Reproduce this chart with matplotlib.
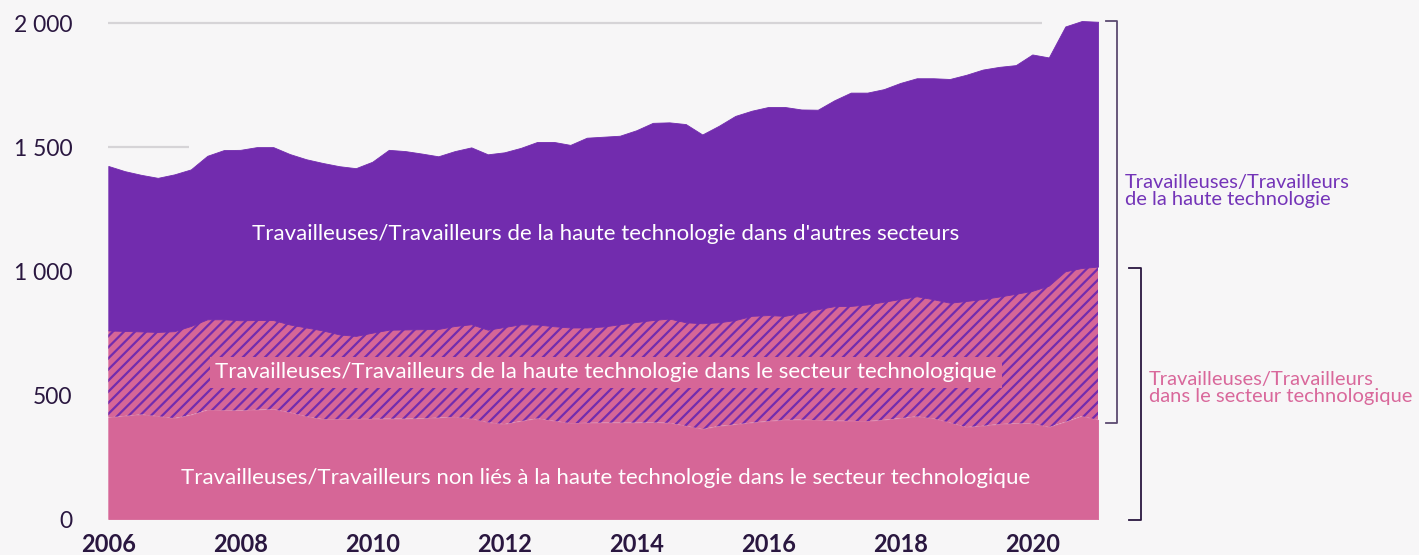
import matplotlib
matplotlib.use("Agg")
import matplotlib.pyplot as plt
import numpy as np

plt.rcParams['font.family'] = ['Lato', 'DejaVu Sans']
plt.rcParams['hatch.linewidth'] = 1.6

# Quarterly positions 2006 Q1 .. 2021 Q1 (thousands of workers)
years = [2006 + 0.25 * i for i in range(61)]

non_high_tech_in_tech = [
    410, 416, 422, 415, 407, 420, 440, 439, 438, 441, 443, 430, 414, 403, 403, 404,
    404, 405, 405, 406, 409, 412, 405, 390, 383, 395, 406, 396, 387, 388, 389, 389,
    389, 390, 388, 376, 363, 375, 382, 389, 395, 400, 401, 399, 397, 396, 395, 400,
    407, 414, 406, 389, 371, 376, 383, 386, 386, 371, 392, 415, 400]

high_tech_in_tech = [
    351, 343, 335, 340, 351, 359, 366, 367, 364, 362, 360, 355, 359, 358, 342, 335,
    348, 359, 360, 360, 358, 367, 381, 374, 392, 391, 379, 382, 386, 385, 388, 397,
    406, 413, 421, 418, 427, 419, 421, 431, 428, 420, 431, 448, 462, 464, 471, 477,
    481, 485, 481, 484, 509, 512, 515, 523, 535, 571, 608, 598, 619]

high_tech_other_sectors = [
    664, 645, 632, 622, 633, 632, 660, 683, 688, 698, 698, 688, 679, 676, 679, 677,
    690, 726, 720, 709, 697, 706, 714, 708, 705, 712, 737, 744, 737, 766, 766, 761,
    774, 796, 792, 800, 762, 793, 824, 828, 840, 843, 821, 805, 831, 861, 855, 858,
    872, 880, 892, 903, 913, 926, 927, 923, 954, 921, 988, 997, 988]

xtick_years = [2006, 2008, 2010, 2012, 2014, 2016, 2018, 2020]
ytick_values = [0, 500, 1000, 1500, 2000]
ytick_labels = ['0', '500', '1 000', '1 500', '2 000']

label_other = "Travailleuses/Travailleurs de la haute technologie dans d'autres secteurs"
label_ht_tech = "Travailleuses/Travailleurs de la haute technologie dans le secteur technologique"
label_nonht_tech = "Travailleuses/Travailleurs non liés à la haute technologie dans le secteur technologique"
bracket_ht = "Travailleuses/Travailleurs\nde la haute technologie"
bracket_tech = "Travailleuses/Travailleurs\ndans le secteur technologique"

BG = '#f7f6f7'
PURPLE = '#722cae'
PINK = '#d66697'
DARK = '#2a1740'
PURPLE_TXT = '#7434b8'
PINK_TXT = '#d9689b'

W, H = 1419, 555
fig = plt.figure(figsize=(W / 100, H / 100), dpi=100, facecolor=BG)
ax = fig.add_axes([108.3 / W, 36 / H, 990 / W, 507.9 / H])
ax.set_facecolor(BG)
ax.set_xlim(2006, 2021)
ax.set_ylim(0, 2050)

# partial gridlines visible in the reference
ax.hlines(2000, 2006, 2020.15, color='#d6d4d7', lw=1.6, zorder=0)
ax.hlines(1500, 2006, 2007.22, color='#d6d4d7', lw=1.6, zorder=0)

polys = ax.stackplot(years, non_high_tech_in_tech, high_tech_in_tech, high_tech_other_sectors,
                     colors=[PINK, PINK, PURPLE], zorder=2)
polys[0].set_edgecolor(PINK)
polys[0].set_linewidth(0.6)
polys[2].set_edgecolor(PURPLE)
polys[2].set_linewidth(0.6)
polys[1].set_hatch('///')
polys[1].set_edgecolor(PURPLE)
polys[1].set_linewidth(0)

for s in ax.spines.values():
    s.set_visible(False)

ax.set_yticks(ytick_values)
ax.set_yticklabels(ytick_labels)
ax.set_xticks(xtick_years)
ax.set_xticklabels([str(y) for y in xtick_years])
ax.tick_params(axis='y', length=0, pad=26, labelsize=16.5, labelcolor=DARK)
ax.tick_params(axis='x', length=0, pad=10, labelsize=17, labelcolor=DARK)
for t in ax.get_xticklabels():
    t.set_fontweight('bold')

ax.text(2013.53, 1150, label_other, color='white', fontsize=16, ha='center', va='center', zorder=5)
ax.text(2013.54, 593, label_ht_tech, color='white', fontsize=16, ha='center', va='center', zorder=5,
        bbox=dict(boxstyle='square,pad=0.25', fc=PINK, ec='none'))
ax.text(2013.54, 165, label_nonht_tech, color='white', fontsize=16, ha='center', va='center', zorder=5)

# brackets (figure pixel coordinates)
def px(x, y):
    return x / W, 1 - y / H

def bracket(xv, xl, ytop, ybot, color):
    xs = [xl, xv, xv, xl]
    ys = [ytop, ytop, ybot, ybot]
    fx = [x / W for x in xs]
    fy = [1 - y / H for y in ys]
    fig.add_artist(plt.Line2D(fx, fy, color=color, lw=1.3, transform=fig.transFigure))

bracket(1117.3, 1106, 21, 423, '#5b4a70')
bracket(1140.7, 1129, 267.5, 519.5, DARK)

fig.text(*px(1125, 191), bracket_ht, color=PURPLE_TXT, fontsize=14.5, ha='left', va='center',
         linespacing=1.0)
fig.text(*px(1149, 388), bracket_tech, color=PINK_TXT, fontsize=14.5, ha='left', va='center',
         linespacing=1.0)

fig.savefig('out.png', dpi=100, facecolor=BG)
